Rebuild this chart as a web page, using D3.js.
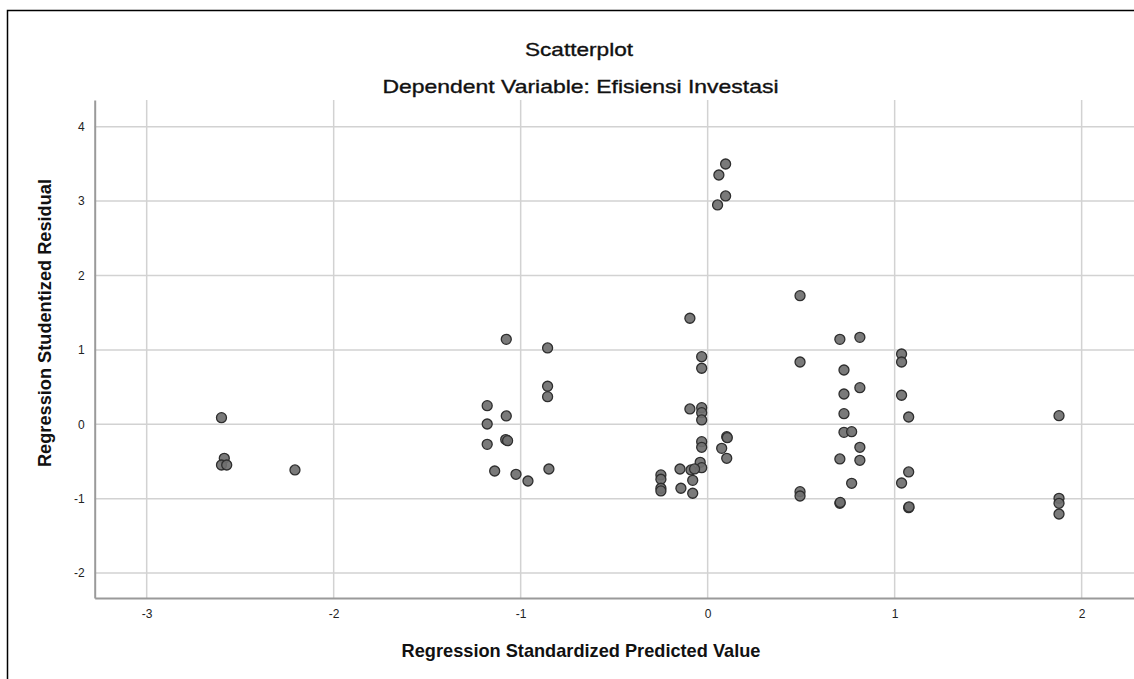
<!DOCTYPE html>
<html>
<head>
<meta charset="utf-8">
<script src="https://cdn.jsdelivr.net/npm/d3@7"></script>
<style>
  html, body { margin: 0; padding: 0; background: #fff; }
  svg { display: block; font-family: "Liberation Sans", Arial, sans-serif; }
</style>
</head>
<body>
<svg id="chart" width="1134" height="679"></svg>
<script>
// ---- data ----
const title = "Scatterplot";
const subtitle = "Dependent Variable: Efisiensi Investasi";
const xTitle = "Regression Standardized Predicted Value";
const yTitle = "Regression Studentized Residual";
const xTicks = [-3, -2, -1, 0, 1, 2];
const yTicks = [-2, -1, 0, 1, 2, 3, 4];

const predicted = [
  -2.60, -2.585, -2.60, -2.572, -2.207,
  -1.077, -0.856, -0.856, -0.856, -1.179, -1.077, -1.179, -1.08, -1.07, -1.179, -1.139, -1.025, -0.961, -0.849,
  -0.095, -0.032, -0.032, -0.095, -0.032, -0.032, -0.032, -0.032, -0.032, 0.102, 0.105, 0.075, 0.102,
  -0.040, -0.032, -0.089, -0.070, -0.148, -0.080, -0.250, -0.250, -0.250, -0.250, -0.143, -0.080,
  0.096, 0.060, 0.096, 0.053,
  0.494, 0.707, 0.814, 1.037, 1.037, 0.494, 0.729, 0.814, 0.729, 1.037, 0.729, 1.075,
  0.729, 0.770, 0.814, 0.707, 0.814, 1.075, 1.037, 0.770, 0.494, 0.494, 0.707, 0.709, 1.075, 1.077,
  1.879, 1.879, 1.879, 1.879
];
const residual = [
  0.089, -0.457, -0.547, -0.547, -0.614,
  1.142, 1.026, 0.511, 0.371, 0.25, 0.112, 0.004, -0.205, -0.22, -0.269, -0.628, -0.672, -0.762, -0.601,
  1.425, 0.909, 0.753, 0.206, 0.223, 0.156, 0.058, -0.234, -0.309, -0.166, -0.18, -0.323, -0.457,
  -0.511, -0.583, -0.614, -0.60, -0.601, -0.753, -0.681, -0.739, -0.860, -0.896, -0.860, -0.927,
  3.499, 3.351, 3.069, 2.948,
  1.729, 1.142, 1.169, 0.945, 0.837, 0.837, 0.730, 0.492, 0.407, 0.390, 0.143, 0.098,
  -0.108, -0.099, -0.309, -0.466, -0.484, -0.641, -0.789, -0.793, -0.906, -0.964, -1.062, -1.05, -1.121, -1.11,
  0.116, -0.995, -1.062, -1.206
];

// ---- layout ----
const svg = d3.select("#chart");
const plot = { left: 94.7, right: 1134, top: 100, bottom: 598 };

const x = d3.scaleLinear().domain([-3.278, 2.28]).range([plot.left, plot.right]);
const y = d3.scaleLinear().domain([-2.335, 4.359]).range([plot.bottom, plot.top]);

// outer frame
svg.append("rect")
  .attr("x", 7.5).attr("y", 10.5)
  .attr("width", 1200).attr("height", 800)
  .attr("fill", "none").attr("stroke", "#000").attr("stroke-width", 1.5);

// titles
svg.append("text").attr("x", 579).attr("y", 56)
  .attr("text-anchor", "middle").attr("font-size", 19).attr("fill", "#111")
  .attr("stroke", "#111").attr("stroke-width", 0.35)
  .attr("textLength", 108).attr("lengthAdjust", "spacingAndGlyphs")
  .text(title);
svg.append("text").attr("x", 580.5).attr("y", 93)
  .attr("text-anchor", "middle").attr("font-size", 19).attr("fill", "#111")
  .attr("stroke", "#111").attr("stroke-width", 0.35)
  .attr("textLength", 396).attr("lengthAdjust", "spacingAndGlyphs")
  .text(subtitle);

// gridlines
const grid = svg.append("g");
grid.selectAll("line.vx").data(xTicks).join("line")
  .attr("x1", d => x(d)).attr("x2", d => x(d))
  .attr("y1", plot.top).attr("y2", plot.bottom)
  .attr("stroke", "#d2d2d2").attr("stroke-width", 1.5);
grid.selectAll("line.hy").data(yTicks).join("line")
  .attr("x1", plot.left).attr("x2", plot.right)
  .attr("y1", d => y(d)).attr("y2", d => y(d))
  .attr("stroke", "#d2d2d2").attr("stroke-width", 1.5);

// axes (library axes, without tick marks; SPSS style)
const xAxis = svg.append("g").attr("transform", `translate(0,${plot.bottom})`)
  .call(d3.axisBottom(x).tickValues(xTicks).tickSize(0).tickPadding(11).tickFormat(d3.format("d")));
const yAxis = svg.append("g").attr("transform", `translate(${plot.left},0)`)
  .call(d3.axisLeft(y).tickValues(yTicks).tickSize(0).tickPadding(10).tickFormat(d3.format("d")));
[xAxis, yAxis].forEach(a => {
  a.select(".domain").attr("stroke", "#9a9a9a").attr("stroke-width", 2);
  a.selectAll("text").attr("font-size", 12).attr("fill", "#222")
    .attr("font-family", "'Liberation Sans', Arial, sans-serif");
});
// hyphen minus like the reference
[xAxis, yAxis].forEach(a => a.selectAll("text").text(d => String(d)));

// axis titles
svg.append("text").attr("x", 581).attr("y", 657)
  .attr("text-anchor", "middle").attr("font-size", 18.2).attr("font-weight", "bold").attr("fill", "#111")
  .text(xTitle);
svg.append("text")
  .attr("transform", `translate(51,323) rotate(-90)`)
  .attr("text-anchor", "middle").attr("font-size", 18.2).attr("font-weight", "bold").attr("fill", "#111")
  .text(yTitle);

// points
svg.append("clipPath").attr("id", "clip").append("rect")
  .attr("x", plot.left).attr("y", plot.top)
  .attr("width", plot.right - plot.left).attr("height", plot.bottom - plot.top);
const pts = predicted.map((p, i) => ({ p, r: residual[i] }));
svg.append("g").attr("clip-path", "url(#clip)")
  .selectAll("circle").data(pts).join("circle")
  .attr("cx", d => x(d.p)).attr("cy", d => y(d.r)).attr("r", 5)
  .attr("fill", "#6f6f6f").attr("fill-opacity", 0.92)
  .attr("stroke", "#2e2e2e").attr("stroke-width", 1.3);
</script>
</body>
</html>
